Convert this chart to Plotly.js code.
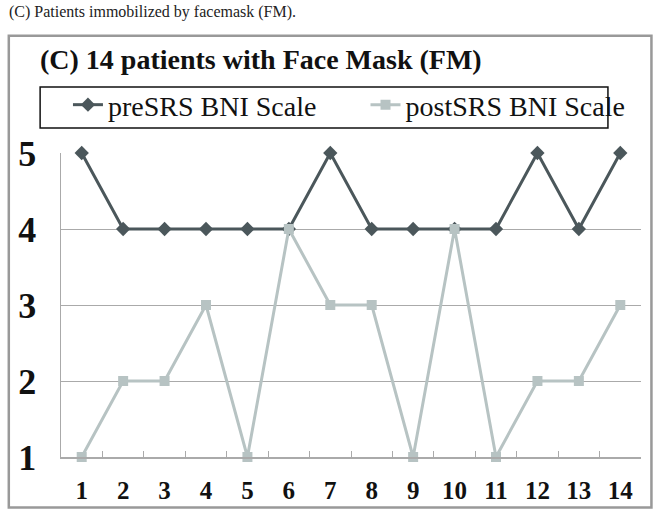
<!DOCTYPE html>
<html><head><meta charset="utf-8">
<script src="https://cdn.plot.ly/plotly-3.0.1.min.js"></script>
<style>body{margin:0;background:#fff}#c{width:660px;height:515px}</style>
</head><body><div id="c"></div>
<script>
const patients = ['1','2','3','4','5','6','7','8','9','10','11','12','13','14'];
const preSRS = [5,4,4,4,4,4,5,4,4,4,4,5,4,5];
const postSRS = [1,2,2,3,1,4,3,3,1,4,1,2,2,3];
const yTicks = [1,2,3,4,5];

const serif = "Liberation Serif, Times New Roman, serif";
const traces = [
  {x: patients, y: preSRS, name: 'preSRS BNI Scale', type: 'scatter', mode: 'lines+markers', cliponaxis: false,
   legend: 'legend',
   line: {color: '#4b575b', width: 3}, marker: {symbol: 'diamond', size: 11, color: '#4b575b'}},
  {x: patients, y: postSRS, name: 'postSRS BNI Scale', type: 'scatter', mode: 'lines+markers', cliponaxis: false,
   legend: 'legend2',
   line: {color: '#b7c3c3', width: 3}, marker: {symbol: 'square', size: 10, color: '#b7c3c3'}}
];
const legBase = {orientation: 'h', xanchor: 'left', y: 1.158, yanchor: 'middle',
  font: {family: serif, size: 28, color: '#111'},
  borderwidth: 0, bgcolor: 'rgba(0,0,0,0)', itemwidth: 30};
const layout = {
  width: 660, height: 515,
  margin: {l: 61, r: 19, t: 153, b: 58},
  paper_bgcolor: '#fff', plot_bgcolor: '#fff',
  font: {family: serif},
  showlegend: true,
  legend: Object.assign({}, legBase, {x: 0.012}),
  legend2: Object.assign({}, legBase, {x: 0.525}),
  xaxis: {type: 'category', tickson: 'boundaries', ticks: 'inside', ticklen: 6, tickcolor: '#aaa',
    showline: true, linecolor: '#aaa', linewidth: 1.5, showgrid: false, zeroline: false,
    range: [-0.5, 13.5], ticklabelstandoff: 10,
    tickfont: {family: serif, size: 25, color: '#111', weight: 'bold'}},
  yaxis: {range: [1, 5], tickvals: yTicks, showline: true, linecolor: '#aaa', linewidth: 1.5,
    showgrid: true, gridcolor: '#aaa', gridwidth: 1, zeroline: false, ticks: '', ticklen: 0,
    ticklabelstandoff: 16,
    tickfont: {family: serif, size: 36, color: '#111', weight: 'bold'}},
  annotations: [
    {text: '(C) Patients immobilized by facemask (FM).', xref: 'paper', yref: 'paper',
     x: -0.093, y: 1.464, xanchor: 'left', yanchor: 'middle', showarrow: false,
     font: {family: serif, size: 16, color: '#222'}},
    {text: '<b>(C) 14 patients with Face Mask (FM)</b>', xref: 'paper', yref: 'paper',
     x: -0.04, y: 1.307, xanchor: 'left', yanchor: 'middle', showarrow: false,
     font: {family: serif, size: 28, color: '#111'}}
  ],
  shapes: [
    {type: 'rect', xref: 'paper', yref: 'paper', x0: -0.09, x1: 1.018, y0: -0.166, y1: 1.3855,
     line: {color: '#999', width: 2.5}, fillcolor: 'rgba(0,0,0,0)'},
    {type: 'rect', xref: 'paper', yref: 'paper', x0: -0.036, x1: 0.943, y0: 1.082, y1: 1.217,
     line: {color: '#111', width: 1.5}, fillcolor: 'rgba(0,0,0,0)'}
  ]
};
Plotly.newPlot('c', traces, layout, {displayModeBar: false, staticPlot: true});
</script></body></html>
